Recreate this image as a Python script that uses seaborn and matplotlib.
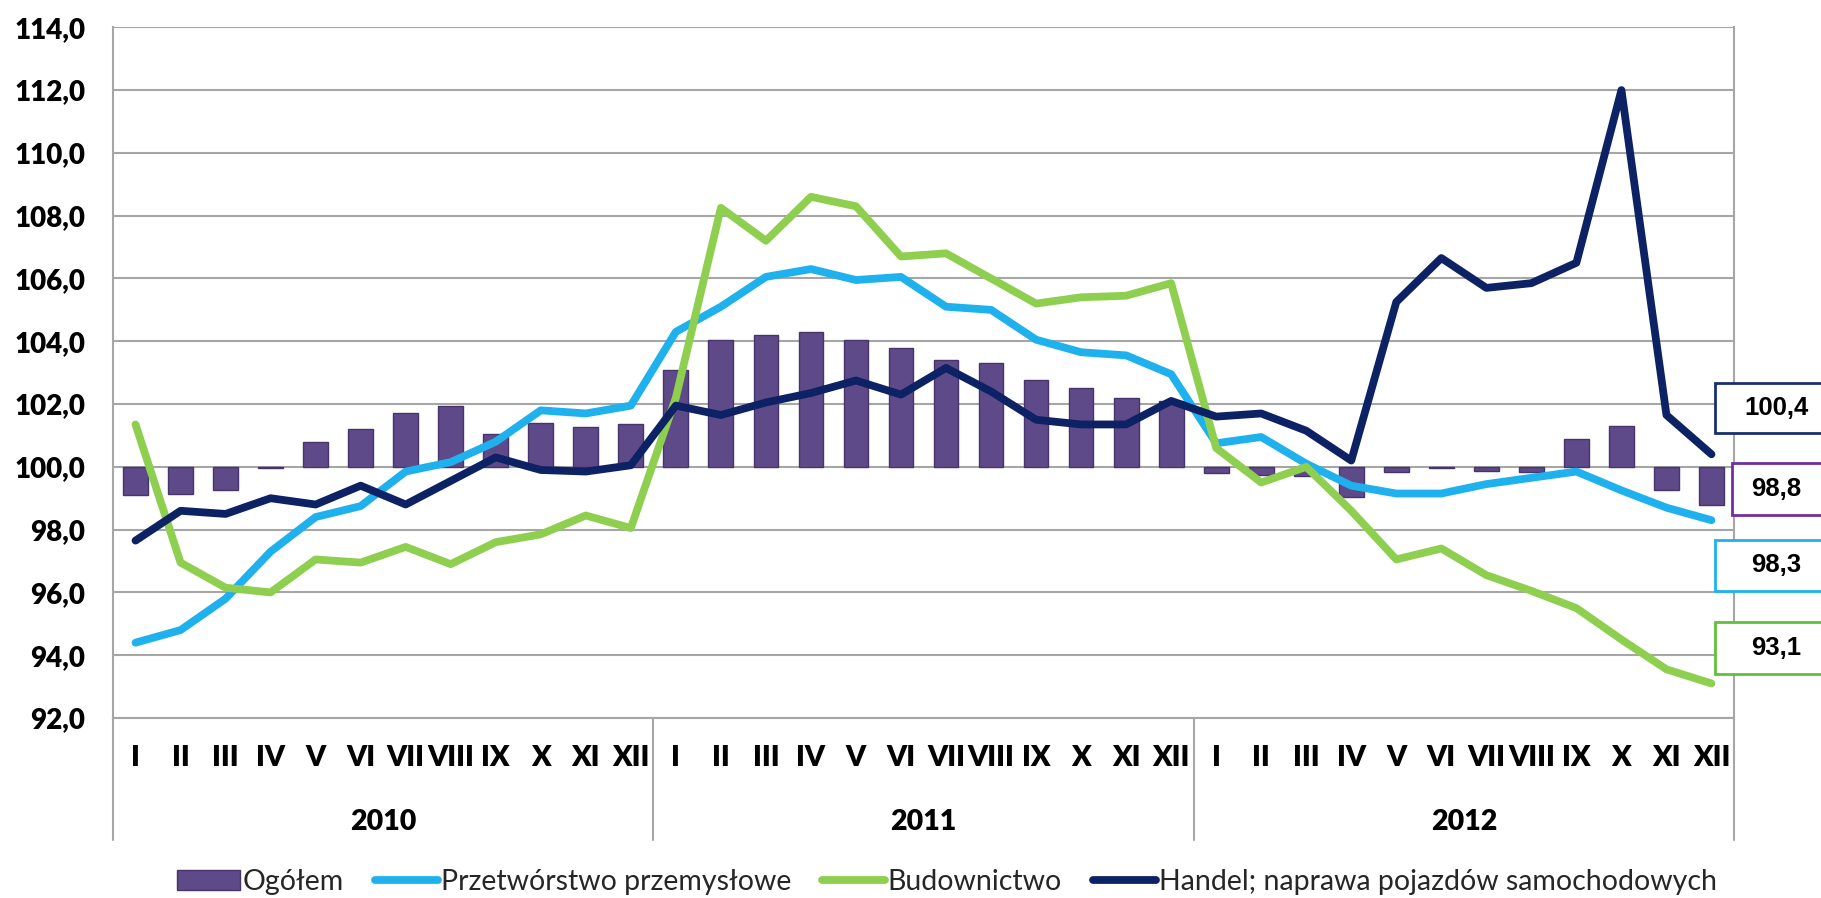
import pandas as pd
import matplotlib
matplotlib.use("Agg")
import matplotlib.pyplot as plt
import matplotlib.transforms as mtransforms
from matplotlib.patches import Rectangle, Patch
from matplotlib.lines import Line2D
import seaborn as sns

# dane
months = ['I', 'II', 'III', 'IV', 'V', 'VI', 'VII', 'VIII', 'IX', 'X', 'XI', 'XII']
years = ['2010', '2011', '2012']

ogolem = [99.1, 99.15, 99.25, 99.95, 100.8, 101.2, 101.7, 101.95, 101.05, 101.4, 101.28, 101.35,
          103.1, 104.05, 104.2, 104.28, 104.05, 103.8, 103.4, 103.3, 102.75, 102.5, 102.2, 102.1,
          99.8, 99.75, 99.7, 99.05, 99.84, 99.97, 99.87, 99.84, 100.9, 101.3, 99.25, 98.8]
przetworstwo = [94.4, 94.8, 95.8, 97.3, 98.4, 98.75, 99.85, 100.15, 100.8, 101.8, 101.7, 101.95,
                104.3, 105.1, 106.05, 106.3, 105.95, 106.05, 105.1, 105.0, 104.05, 103.65, 103.55, 102.95,
                100.75, 100.95, 100.1, 99.4, 99.15, 99.15, 99.45, 99.65, 99.85, 99.25, 98.7, 98.3]
budownictwo = [101.35, 96.95, 96.15, 96.0, 97.05, 96.95, 97.45, 96.9, 97.6, 97.85, 98.45, 98.05,
               102.2, 108.25, 107.2, 108.6, 108.3, 106.7, 106.8, 106.0, 105.2, 105.4, 105.45, 105.85,
               100.6, 99.5, 100.0, 98.6, 97.05, 97.4, 96.55, 96.05, 95.5, 94.5, 93.55, 93.1]
handel = [97.65, 98.6, 98.5, 99.0, 98.8, 99.4, 98.8, 99.55, 100.3, 99.9, 99.85, 100.05,
          101.95, 101.65, 102.05, 102.35, 102.75, 102.3, 103.15, 102.4, 101.5, 101.35, 101.35, 102.1,
          101.6, 101.7, 101.15, 100.2, 105.25, 106.65, 105.7, 105.85, 106.5, 112.0, 101.65, 100.4]

series_names = ['Przetwórstwo przemysłowe', 'Budownictwo', 'Handel; naprawa pojazdów samochodowych']
colors = {'Ogółem': '#5e4a89',
          'Przetwórstwo przemysłowe': '#1eb1ed',
          'Budownictwo': '#8fcf4f',
          'Handel; naprawa pojazdów samochodowych': '#0c2264'}

idx = list(range(len(ogolem)))
bars = pd.DataFrame({'idx': idx, 'dev': [v - 100 for v in ogolem]})
lines = pd.concat([
    pd.DataFrame({'idx': idx, 'val': vals, 'series': name})
    for name, vals in zip(series_names, [przetworstwo, budownictwo, handel])
])

sns.set_theme(style='white')
plt.rcParams['font.family'] = ['Lato', 'DejaVu Sans']

fig = plt.figure(figsize=(18.21, 8.98), dpi=100)
ax = fig.add_axes([113 / 1821, 1 - 718 / 898, (1734 - 113) / 1821, (718 - 27.3) / 898])

sns.barplot(data=bars, x='idx', y='dev', bottom=100, color=colors['Ogółem'], saturation=1,
            width=0.55, errorbar=None, edgecolor='#45356a', linewidth=1, ax=ax, zorder=2)
sns.lineplot(data=lines, x='idx', y='val', hue='series', palette=colors, hue_order=series_names,
             linewidth=5.6, legend=False, sort=False, ax=ax, zorder=3)

ax.set_xlim(-0.5, 35.5)
ax.set_ylim(92, 114)
ax.set_yticks(range(92, 115, 2))
ax.set_yticklabels([f'{v},0' for v in range(92, 115, 2)], fontsize=20, fontweight='heavy', color='black')
ax.yaxis.grid(True, color='#a6a6a6', linewidth=1.5, zorder=0)
ax.set_axisbelow(True)
ax.tick_params(axis='y', length=0, pad=20)
ax.set_xticks([])
ax.set_xlabel('')
ax.set_ylabel('')
for side in ['left', 'right', 'bottom']:
    ax.spines[side].set_color('#a6a6a6')
    ax.spines[side].set_linewidth(1.5)
ax.spines['top'].set_visible(False)

# etykiety miesięcy i lat
trans = mtransforms.blended_transform_factory(ax.transData, ax.transAxes)
for i in idx:
    ax.text(i, -0.058, months[i % 12], transform=trans, ha='center', va='center',
            fontsize=20.5, fontweight='heavy', color='black')
for k, yr in enumerate(years):
    ax.text(k * 12 + 5.5, -0.151, yr, transform=trans, ha='center', va='center',
            fontsize=20.5, fontweight='heavy', color='black')
for b in [-0.5, 11.5, 23.5, 35.5]:
    ax.plot([b, b], [0, -0.177], transform=trans, color='#a6a6a6', linewidth=1.5, clip_on=False)

# legenda
handles = [Patch(facecolor=colors['Ogółem'], edgecolor='#45356a', label='Ogółem')]
handles += [Line2D([0], [0], color=colors[n], linewidth=5.6, label=n) for n in series_names]
fig.legend(handles=handles, loc='center', bbox_to_anchor=(0.52, 0.018), ncol=4, frameon=False,
           fontsize=20.5, handlelength=2.2, handletextpad=0.1, columnspacing=1.1)

# ramki z wartościami końcowymi
boxes = [('100,4', '#1a2f6e', 1715, 383, 433),
         ('98,8', '#7030a0', 1732, 463, 515),
         ('98,3', '#1eb1ed', 1715, 540, 591),
         ('93,1', '#5fc23a', 1715, 622, 674)]
for txt, ec, x0, top, bot in boxes:
    fig.add_artist(Rectangle((x0 / 1821, 1 - bot / 898), 0.2, (bot - top) / 898,
                             transform=fig.transFigure, facecolor='white', edgecolor=ec,
                             linewidth=2, zorder=10))
    fig.text(1776 / 1821, 1 - (top + bot) / 2 / 898, txt, ha='center', va='center',
             fontsize=18.5, fontweight='bold', family=['Liberation Sans', 'DejaVu Sans'],
             color='black', zorder=11)

fig.savefig('out.png', dpi=100)
